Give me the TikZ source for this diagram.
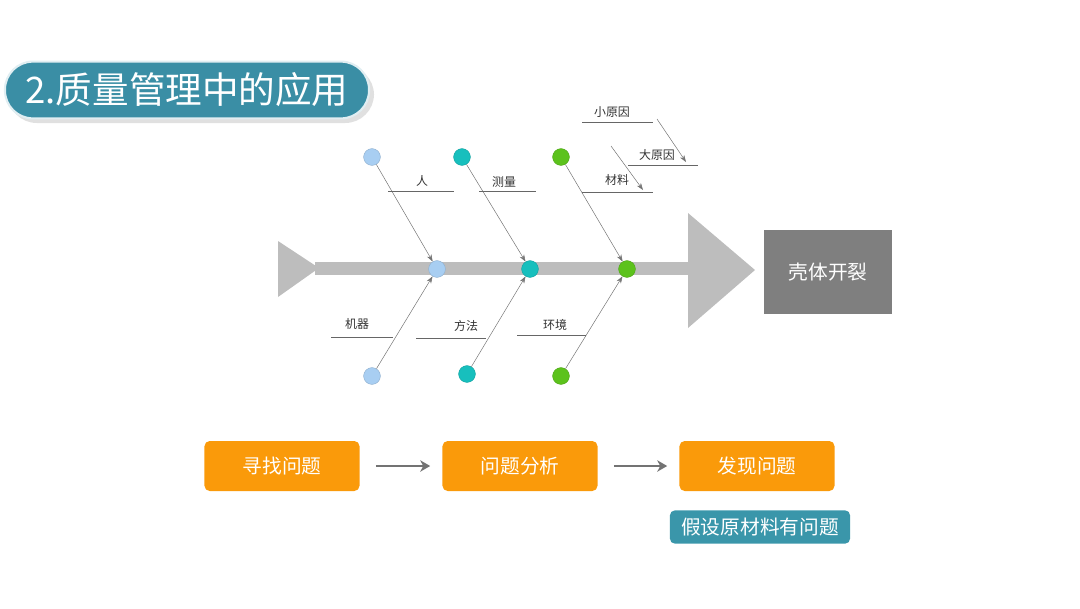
\documentclass[tikz,border=0pt]{standalone}
\usepackage{fontspec}
\setmainfont{Noto Sans CJK SC}
\usetikzlibrary{arrows.meta, positioning, shapes.geometric}
\definecolor{titleteal}{HTML}{3A8EA5}
\definecolor{noteteal}{HTML}{3A96AA}
\definecolor{spinegray}{HTML}{BDBDBD}
\definecolor{headgray}{HTML}{7F7F7F}
\definecolor{flowor}{HTML}{FA9A0A}
\definecolor{c1}{HTML}{A8CEF2}
\definecolor{c2}{HTML}{17BFBD}
\definecolor{c3}{HTML}{5CC21C}

\begin{document}
\begin{tikzpicture}[
    x=0.025cm, y=-0.025cm,
    dot/.style={circle, minimum size=0.42cm, inner sep=0pt, fill=#1, draw=#1!85!black, line width=0.3pt},
    bone/.style={draw=black!55, line width=0.35pt, -{Stealth[length=5pt, width=3.5pt]}},
    rib/.style={draw=black!60, line width=0.6pt},
    lbl/.style={font=\fontsize{8.5}{10}\selectfont, text=black!80, inner sep=0pt},
    obox/.style={rectangle, rounded corners=0.13cm, fill=flowor, text=white, minimum width=3.875cm, minimum height=1.25cm, font=\fontsize{14}{16}\selectfont},
    flow/.style={draw=black!55, line width=1.5pt, -{Stealth[length=7pt, width=8pt, inset=2pt]}, shorten <=0.4cm, shorten >=0.3cm}
  ]
    \useasboundingbox (0,0) rectangle (1080,608);

    % Title
    \fill[black!12, rounded corners=0.72cm] (8,66) rectangle (374,123);
    \node[rectangle, rounded corners=0.7cm, fill=titleteal, draw=white!85!titleteal, line width=1.5pt,
      minimum width=9.1cm, minimum height=1.42cm, text=white, font=\fontsize{26}{30}\selectfont] (title) at (187,90) {2.质量管理中的应用};

    % Fish tail, spine and head
    \fill[spinegray] (278,241) -- (319,268) -- (278,297) -- cycle;
    \fill[spinegray] (315,262) rectangle (692,275);
    \fill[spinegray] (688,213) -- (755,270) -- (688,328) -- cycle;
    \node[rectangle, fill=headgray, text=white, minimum width=3.18cm, minimum height=2.12cm,
      font=\fontsize{14}{16}\selectfont] (effect) at (828,272) {壳体开裂};

    % Circles
    \node[dot=c1] (t1) at (372,157) {};
    \node[dot=c2] (t2) at (462,157) {};
    \node[dot=c3] (t3) at (561,157) {};
    \node[dot=c1] (m1) at (437,269) {};
    \node[dot=c2] (m2) at (530,269) {};
    \node[dot=c3] (m3) at (627,269) {};
    \node[dot=c1] (b1) at (372,376) {};
    \node[dot=c2] (b2) at (467,374) {};
    \node[dot=c3] (b3) at (561,376) {};

    % Bones
    \draw[bone] (t1) -- (m1);
    \draw[bone] (t2) -- (m2);
    \draw[bone] (t3) -- (m3);
    \draw[bone] (b1) -- (m1);
    \draw[bone] (b2) -- (m2);
    \draw[bone] (b3) -- (m3);

    % Cause labels
    \draw[rib] (388,191) -- (454,191);
    \node[lbl] (ren) at (422,181) {人};
    \draw[rib] (479,191) -- (536,191);
    \node[lbl] (celiang) at (504,182) {测量};
    \draw[rib] (582,192) -- (653,192);
    \node[lbl] (cailiao) at (617,180) {材料};
    \draw[rib] (331,337) -- (393,337);
    \node[lbl] (jiqi) at (357,324) {机器};
    \draw[rib] (416,338) -- (486,338);
    \node[lbl] (fangfa) at (466,326) {方法};
    \draw[rib] (517,335) -- (586,335);
    \node[lbl] (huanjing) at (555,325) {环境};

    % Legend
    \draw[rib] (582,122) -- (653,122);
    \node[lbl] (xiao) at (612,112) {小原因};
    \draw[rib] (628,165) -- (698,165);
    \node[lbl] (da) at (657,155) {大原因};
    \coordinate (s1) at (657,119);
    \coordinate (e1) at (686,162);
    \coordinate (s2) at (611,146);
    \coordinate (e2) at (643,190);
    \draw[bone] (s1) -- (e1);
    \draw[bone] (s2) -- (e2);

    % Flow
    \node[obox] (find) at (282,466) {寻找问题};
    \node[obox] (analyse) at (520,466) {问题分析};
    \node[obox] (found) at (757,466) {发现问题};
    \draw[flow] (find) -- (analyse);
    \draw[flow] (analyse) -- (found);
    \node[rectangle, rounded corners=0.12cm, fill=noteteal, text=white, minimum width=4.5cm, minimum height=0.83cm,
      font=\fontsize{14}{16}\selectfont] (guess) at (760,527) {假设原材料有问题};
  \end{tikzpicture}
\end{document}
